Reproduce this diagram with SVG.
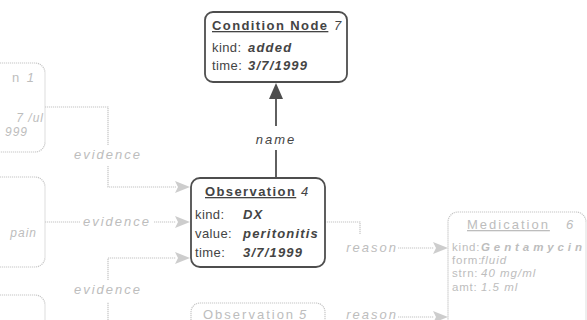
<svg xmlns="http://www.w3.org/2000/svg" width="587" height="320" viewBox="0 0 587 320">
  <style>
    text { font-family: "Liberation Sans", Arial, sans-serif; }
    .box { fill: #ffffff; stroke: #4e4e4e; stroke-width: 1.8; }
    .fbox { fill: #ffffff; stroke: #c6c6c6; stroke-width: 1.2; stroke-dasharray: 1.2 0.8; }
    .title { font-size: 13px; font-weight: bold; letter-spacing: 1.4px; fill: #444; }
    .num { font-size: 13px; font-style: italic; fill: #444; }
    .lbl { font-size: 13px; fill: #444; letter-spacing: 0.4px; }
    .val { font-size: 13px; font-weight: bold; font-style: italic; fill: #444; letter-spacing: 1.2px; }
    .edge { stroke: #4e4e4e; stroke-width: 1.8; fill: none; }
    .head { fill: #4e4e4e; }
    .fedge { stroke: #c4c4c4; stroke-width: 1.2; stroke-dasharray: 1.2 0.8; fill: none; }
    .fhead { fill: #cdcdcd; }
    .elabel { font-size: 13px; font-style: italic; fill: #444; letter-spacing: 2px; }
    .flabel { font-size: 13px; font-style: italic; fill: #bdbdbd; letter-spacing: 2px; }
    .ftxt { font-size: 11.5px; fill: #bdbdbd; letter-spacing: 0.8px; }
    .fval { font-size: 11.5px; font-style: italic; fill: #bdbdbd; letter-spacing: 1px; }
    .fbval { font-size: 11.5px; font-style: italic; font-weight: bold; fill: #bdbdbd; }
    .ftitle { font-size: 13px; fill: #bdbdbd; letter-spacing: 2px; }
    .fnum { font-size: 13px; font-style: italic; fill: #bdbdbd; }
    .fside { font-size: 12px; font-style: italic; fill: #bdbdbd; letter-spacing: 1px; }
  </style>

  <!-- connectors -->
  <g id="connectors">
    <!-- name: Observation 4 -> Condition Node 7 -->
    <line class="edge" x1="276" y1="178" x2="276" y2="150"/>
    <line class="edge" x1="276" y1="126" x2="276" y2="96"/>
    <polygon class="head" points="276,83 269,99 283,99"/>
    <text class="elabel" x="276" y="144" text-anchor="middle">name</text>

    <!-- evidence from upper left node -->
    <polyline class="fedge" points="45,107 108,107 108,145"/>
    <polyline class="fedge" points="108,166 108,187 176,187"/>
    <polygon class="fhead" points="190,187 175,181 178,187 175,193"/>
    <text class="flabel" x="108" y="159" text-anchor="middle">evidence</text>

    <!-- evidence from middle left node -->
    <line class="fedge" x1="45" y1="222" x2="80" y2="222"/>
    <line class="fedge" x1="154" y1="222" x2="176" y2="222"/>
    <polygon class="fhead" points="190,222 175,216 178,222 175,228"/>
    <text class="flabel" x="117" y="226" text-anchor="middle">evidence</text>

    <!-- evidence from lower left node -->
    <line class="fedge" x1="108" y1="320" x2="108" y2="302"/>
    <polyline class="fedge" points="108,280 108,258 176,258"/>
    <polygon class="fhead" points="190,258 175,252 178,258 175,264"/>
    <text class="flabel" x="108" y="294" text-anchor="middle">evidence</text>

    <!-- reason: Observation 4 -> Medication 6 -->
    <polyline class="fedge" points="325,222 360,222 360,234"/>
    <line class="fedge" x1="398" y1="248" x2="434" y2="248"/>
    <polygon class="fhead" points="448,248 433,242 436,248 433,254"/>
    <text class="flabel" x="372" y="252" text-anchor="middle">reason</text>

    <!-- reason: Observation 5 -> Medication 6 -->
    <line class="fedge" x1="398" y1="317" x2="434" y2="317"/>
    <polygon class="fhead" points="448,317 433,311 436,317 433,323"/>
    <text class="flabel" x="372" y="319" text-anchor="middle">reason</text>
  </g>

  <!-- faded neighbour nodes on the left -->
  <g id="node-left-1">
    <rect class="fbox" x="-20" y="63" width="65" height="89" rx="10"/>
    <text class="ftitle" x="36" y="82" text-anchor="end">n <tspan font-style="italic">1</tspan></text>
    <text class="fside" x="44" y="122" text-anchor="end">7 /ul</text>
    <text class="fside" x="28" y="136" text-anchor="end">999</text>
  </g>
  <g id="node-left-2">
    <rect class="fbox" x="-20" y="177" width="65" height="90" rx="10"/>
    <text class="fside" x="37" y="237" text-anchor="end">pain</text>
  </g>
  <g id="node-left-3">
    <rect class="fbox" x="-20" y="295" width="65" height="60" rx="10"/>
  </g>

  <!-- Condition Node 7 -->
  <g id="condition-node-7">
    <rect class="box" x="205" y="12" width="142" height="70" rx="8"/>
    <text class="title" x="212" y="30" text-decoration="underline">Condition Node</text>
    <text class="num" x="334" y="30">7</text>
    <text class="lbl" x="212" y="52">kind:</text>
    <text class="val" x="248" y="52">added</text>
    <text class="lbl" x="212" y="70">time:</text>
    <text class="val" x="248" y="70">3/7/1999</text>
  </g>

  <!-- Observation 4 -->
  <g id="observation-4">
    <rect class="box" x="191" y="178" width="134" height="89" rx="9"/>
    <text class="title" x="205" y="196" text-decoration="underline">Observation</text>
    <text class="num" x="301" y="196">4</text>
    <text class="lbl" x="195" y="219">kind:</text>
    <text class="val" x="243" y="219">DX</text>
    <text class="lbl" x="195" y="238">value:</text>
    <text class="val" x="243" y="238">peritonitis</text>
    <text class="lbl" x="195" y="257">time:</text>
    <text class="val" x="243" y="257">3/7/1999</text>
  </g>

  <!-- Observation 5 (faded) -->
  <g id="observation-5">
    <rect class="fbox" x="191" y="303" width="134" height="40" rx="9"/>
    <text class="ftitle" x="203" y="319" text-decoration="underline">Observation</text>
    <text class="fnum" x="299" y="319">5</text>
  </g>

  <!-- Medication 6 (faded) -->
  <g id="medication-6">
    <rect class="fbox" x="448" y="212" width="138" height="130" rx="10"/>
    <text class="ftitle" x="467" y="229" text-decoration="underline">Medication</text>
    <text class="fnum" x="566" y="229">6</text>
    <text class="ftxt" x="452" y="251">kind:</text>
    <text class="fbval" x="481" y="251" textLength="101" lengthAdjust="spacing">Gentamycin</text>
    <text class="ftxt" x="452" y="264">form:</text>
    <text class="fval" x="481" y="264">fluid</text>
    <text class="ftxt" x="452" y="277">strn:</text>
    <text class="fval" x="481" y="277">40 mg/ml</text>
    <text class="ftxt" x="452" y="291">amt:</text>
    <text class="fval" x="481" y="291">1.5 ml</text>
  </g>
</svg>
